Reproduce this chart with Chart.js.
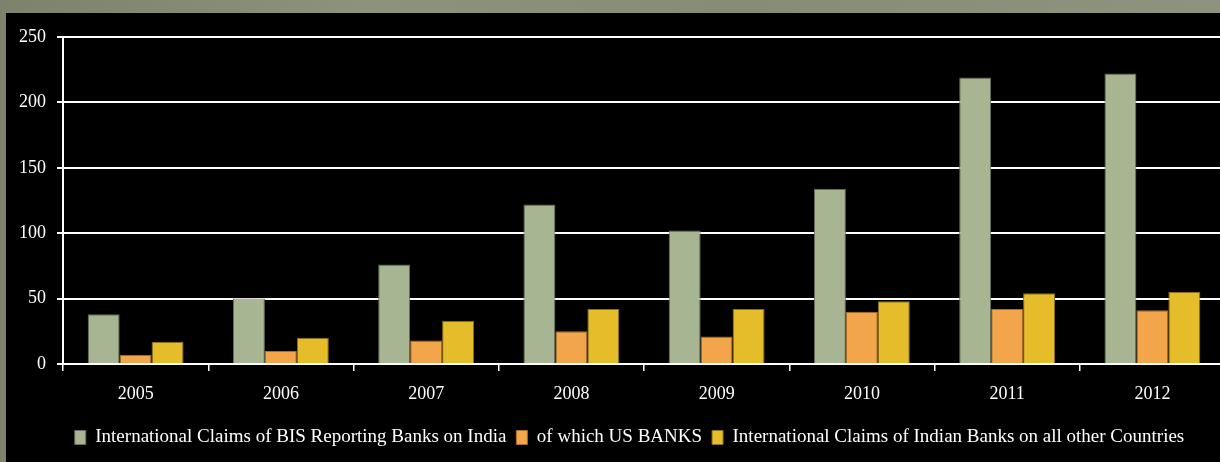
<!DOCTYPE html>
<html>
<head>
<meta charset="utf-8">
<script src="https://cdn.jsdelivr.net/npm/chart.js@4"></script>
<style>
  html, body { margin: 0; padding: 0; overflow: hidden; }
  body {
    width: 1220px; height: 462px;
    background: linear-gradient(90deg, #7c826b 0%, #8d927d 30%, #878c76 60%, #8e937f 100%);
    position: relative;
  }
  #frame {
    position: absolute; left: 6px; top: 13px;
    width: 1219px; height: 449px;
    background: #000;
  }
</style>
</head>
<body>
<div id="frame"><canvas id="c" width="1219" height="449"></canvas></div>
<script>
// Years on the category axis
const years = ['2005', '2006', '2007', '2008', '2009', '2010', '2011', '2012'];

// Claims, in billions of US dollars
const bisClaimsOnIndia = [38, 50, 76, 122, 102, 134, 219, 222];
const usBanksClaims = [7, 10, 18, 25, 21, 40, 42, 41];
const indianBanksClaimsAbroad = [17, 20, 33, 42, 42, 48, 54, 55];

const yTicks = [0, 50, 100, 150, 200, 250];

const seriesNames = [
  'International Claims of BIS Reporting Banks on India',
  'of which US BANKS',
  'International Claims of Indian Banks on all other Countries'
];

const serif = "'Liberation Serif', 'DejaVu Serif', serif";

// Nudge the legend row a little to the right of the canvas centre
const legendShift = {
  id: 'legendShift',
  afterLayout(chart) {
    const lg = chart.legend;
    if (lg) { lg.left += 14; lg.right += 14; }
  }
};

new Chart(document.getElementById('c'), {
  type: 'bar',
  data: {
    labels: years,
    datasets: [
      { label: seriesNames[0], data: bisClaimsOnIndia, backgroundColor: '#a7b593', borderColor: '#66705a', borderWidth: 1 },
      { label: seriesNames[1], data: usBanksClaims, backgroundColor: '#f2a54a', borderColor: '#a8702e', borderWidth: 1 },
      { label: seriesNames[2], data: indianBanksClaimsAbroad, backgroundColor: '#e5bd2b', borderColor: '#8c7118', borderWidth: 1 }
    ]
  },
  plugins: [legendShift],
  options: {
    responsive: false,
    animation: false,
    maintainAspectRatio: false,
    layout: { padding: { top: 24, right: 0, bottom: 5, left: 0 } },
    datasets: { bar: { barPercentage: 1, categoryPercentage: 0.66 } },
    plugins: {
      tooltip: { enabled: false },
      legend: {
        position: 'bottom',
        labels: {
          color: '#ffffff',
          font: { family: serif, size: 19 },
          boxWidth: 11,
          boxHeight: 14,
          padding: 10
        }
      }
    },
    scales: {
      x: {
        offset: true,
        afterFit: s => { s.height = 54; },
        grid: {
          offset: true,
          drawOnChartArea: false,
          color: '#ffffff',
          tickLength: 7,
          lineWidth: 1.5
        },
        border: { color: '#ffffff', width: 2 },
        ticks: { color: '#ffffff', font: { family: serif, size: 18 }, padding: 12 }
      },
      y: {
        min: 0,
        max: 250,
        afterBuildTicks: s => { s.ticks = yTicks.map(v => ({ value: v })); },
        afterFit: s => { s.width = 57; },
        grid: { color: '#ffffff', lineWidth: 2, tickLength: 6 },
        border: { color: '#ffffff', width: 2 },
        ticks: { color: '#ffffff', font: { family: serif, size: 18 }, padding: 11 }
      }
    }
  }
});
</script>
</body>
</html>
